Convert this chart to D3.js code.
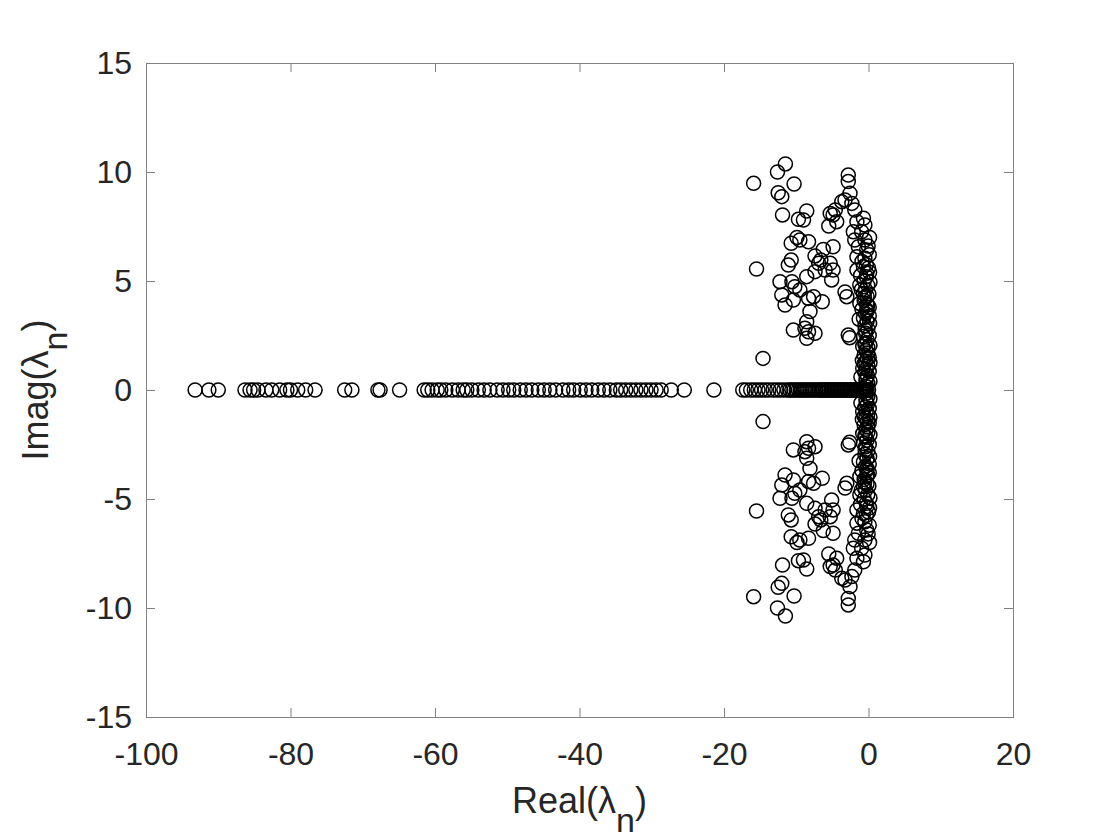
<!DOCTYPE html>
<html>
<head>
<meta charset="utf-8">
<script src="https://cdn.jsdelivr.net/npm/d3@7"></script>
<style>
  body { margin: 0; background: #fff; }
  svg { display: block; font-family: 'Liberation Sans', Arial, sans-serif; }
</style>
</head>
<body>
<script>
// eigenvalues on the real axis (imag = 0)
const realAxisValues = [
  -93.2, -91.3, -90.0,
  -86.3, -85.6, -85.1, -84.5, -83.4, -82.6, -81.5, -80.5, -80.0, -79.0, -77.9, -76.6,
  -72.5, -71.5, -67.9, -67.6, -64.9,
  -61.5, -61.0, -60.4, -59.7, -59.2, -58.5, -57.6, -56.8, -56.1, -55.6, -54.9, -54.0,
  -53.2, -52.4, -51.4, -50.6, -49.8, -49.1, -48.2, -47.4, -46.6, -45.7, -44.9, -44.1,
  -43.3, -42.3, -41.5, -40.8, -39.9, -39.1, -38.3, -37.4, -36.6, -35.8, -34.9, -34.3,
  -33.6, -32.9, -32.2, -31.5, -30.8, -30.1, -29.4, -28.7, -27.3, -25.5,
  -21.4,
  -17.4, -16.9, -16.3, -15.8, -15.3, -14.8, -14.3, -13.8, -13.2, -12.7, -12.2, -11.7,
  -11.2, -10.9, -10.6, -10.3, -10.0, -9.7, -9.45, -9.2, -8.9, -8.65, -8.4, -8.1, -7.85,
  -7.6, -7.3,
  -7.0, -6.8, -6.6, -6.4, -6.2, -6.0, -5.8, -5.6, -5.4, -5.2, -5.0, -4.8, -4.6, -4.4,
  -4.2, -4.0, -3.8, -3.6, -3.4, -3.2, -3.0, -2.8, -2.6, -2.4, -2.2, -2.0, -1.8, -1.6,
  -1.4, -1.2, -1.0, -0.8, -0.6, -0.4, -0.2, 0.0
];

// complex eigenvalues with positive imaginary part; their conjugates are plotted too
const upperRe = [
  -15.9, -12.6, -11.5, -10.3, -12.5, -12.0, -11.9, -9.7, -8.55, -9.0, -5.3, -5.5, -4.6, -3.7,
  -9.9, -9.5, -10.7, -8.3, -10.7, -7.4, -6.26, -6.6, -5.3, -15.5,
  -12.25, -10.6, -10.2, -9.5, -12.0, -11.55, -10.4, -8.55, -7.4, -6.9, -5.1, -6.0, -8.3,
  -7.6, -6.4, -8.1, -8.55, -10.4, -8.8, -8.3, -7.4, -8.55, -14.6, -11.1,
  -2.8, -2.8, -2.56, -3.25, -2.3, -1.9, -4.9, -4.4, -1.6, -0.7, -0.5, -0.95, -2.1, -1.9,
  -0.5, -1.4, -0.25, -1.6, -0.5, -0.7, -1.6, -0.25, -4.9, -4.9, -3.25, -3.0, -1.2, -0.7,
  -1.2, -0.25, -2.8, -2.6,
  -0.3, -0.6, -0.1, -0.4, -0.2, -0.6, -0.1, -0.4, -0.7, -0.2, -0.5, -0.1, -0.4, -0.7,
  -0.2, -0.5, -0.1, -0.35, -0.6, -0.15, -0.4, -0.1, -0.3, -0.5, -0.15, -0.35, -0.1, -0.25,
  0.1, 0.1, 0.1, 0.05, 0.0, -0.9, -1.0, -0.9, -0.8, -0.8,
  0.15, -0.3, 0.2, -0.55, 0.1, -0.2, 0.15, -0.45, 0.2, -0.1, 0.1, -0.6, 0.2, -0.3,
  0.1, -0.05, 0.15, -0.4, 0.2, -0.25, -1.1, -1.3, -0.85, -1.05
];
const upperIm = [
  9.48, 10.0, 10.37, 9.45, 9.05, 8.87, 8.03, 7.83, 8.21, 7.8, 8.1, 7.52, 8.26, 8.64,
  7.0, 6.88, 6.73, 6.8, 5.96, 6.15, 6.45, 5.96, 5.81, 5.55,
  4.97, 4.97, 4.74, 4.59, 4.36, 3.9, 4.13, 5.2, 5.43, 5.81, 5.05, 5.5, 4.2,
  4.28, 4.05, 3.6, 3.13, 2.75, 2.83, 2.67, 2.6, 2.37, 1.45, 5.73,
  9.86, 9.56, 9.02, 8.72, 8.56, 8.26, 8.03, 7.72, 7.72, 7.88, 7.57, 7.26, 7.26, 6.88,
  6.88, 6.57, 6.42, 6.11, 6.04, 5.66, 5.5, 5.35, 6.57, 5.5, 4.5, 4.28, 4.82, 4.43,
  3.97, 3.67, 2.52, 2.4,
  5.2, 5.0, 4.8, 4.6, 4.3, 4.1, 3.9, 3.5, 3.3, 3.15, 2.95, 2.8, 2.6, 2.45,
  2.3, 2.1, 1.95, 1.8, 1.6, 1.45, 1.3, 1.1, 0.95, 0.8, 0.65, 0.45, 0.3, 0.15,
  2.5, 3.4, 1.5, 4.4, 5.6, 5.9, 4.6, 3.7, 2.0, 1.0,
  5.4, 5.75, 4.95, 4.25, 3.8, 3.6, 3.05, 2.75, 2.05, 1.7, 0.85, 1.2, 0.4, 0.55,
  6.2, 6.6, 7.0, 2.15, 1.25, 3.95, 5.25, 3.25, 1.35, 0.6
];

const xTicks = [-100, -80, -60, -40, -20, 0, 20];
const yTicks = [-15, -10, -5, 0, 5, 10, 15];

const points = realAxisValues.map(re => ({ re, im: 0 }));
upperRe.forEach((re, i) => {
  points.push({ re, im: upperIm[i] });
  points.push({ re, im: -upperIm[i] });
});

const width = 1120;
const height = 840;
const box = { left: 146, right: 1013, top: 63, bottom: 717 };
const axisColor = '#808080';
const textColor = '#262626';

const svg = d3.select('body')
  .append('svg')
  .attr('width', width)
  .attr('height', height);

const x = d3.scaleLinear().domain([-100, 20]).range([box.left, box.right]);
const y = d3.scaleLinear().domain([-15, 15]).range([box.bottom, box.top]);

const plainNumber = d => String(d);

// inward ticks on all four sides, like a boxed MATLAB axes
svg.append('g')
  .attr('transform', `translate(0, ${box.bottom})`)
  .call(d3.axisBottom(x).tickValues(xTicks).tickFormat(plainNumber)
    .tickSizeInner(-9).tickSizeOuter(0).tickPadding(25));
svg.append('g')
  .attr('transform', `translate(${box.left}, 0)`)
  .call(d3.axisLeft(y).tickValues(yTicks).tickFormat(plainNumber)
    .tickSizeInner(-9).tickSizeOuter(0).tickPadding(14));
svg.append('g')
  .attr('transform', `translate(0, ${box.top})`)
  .call(d3.axisTop(x).tickValues(xTicks).tickSizeInner(-9).tickSizeOuter(0).tickFormat(''));
svg.append('g')
  .attr('transform', `translate(${box.right}, 0)`)
  .call(d3.axisRight(y).tickValues(yTicks).tickSizeInner(-9).tickSizeOuter(0).tickFormat(''));

svg.selectAll('.domain').remove();
svg.selectAll('.tick line').attr('stroke', axisColor);
svg.selectAll('.tick text')
  .attr('fill', textColor)
  .style('font-size', '32px')
  .style('font-family', "'Liberation Sans', Arial, sans-serif");

svg.append('rect')
  .attr('x', box.left + 0.5)
  .attr('y', box.top + 0.5)
  .attr('width', box.right - box.left)
  .attr('height', box.bottom - box.top)
  .attr('fill', 'none')
  .attr('stroke', axisColor)
  .attr('stroke-width', 1);

svg.append('g')
  .selectAll('circle')
  .data(points)
  .enter()
  .append('circle')
  .attr('cx', d => x(d.re))
  .attr('cy', d => y(d.im))
  .attr('r', 7)
  .attr('fill', 'none')
  .attr('stroke', '#000')
  .attr('stroke-width', 1.5);

function axisLabel(g, name) {
  const t = g.append('text')
    .attr('text-anchor', 'middle')
    .attr('fill', textColor)
    .style('font-size', '36px');
  t.append('tspan').text(name + '(λ');
  t.append('tspan').attr('dy', 19).style('font-size', '34px').text('n');
  t.append('tspan').attr('dy', -19).text(')');
}

axisLabel(svg.append('g').attr('transform', `translate(${(box.left + box.right) / 2}, 813)`), 'Real');
axisLabel(svg.append('g').attr('transform', `translate(48, ${(box.top + box.bottom) / 2}) rotate(-90)`), 'Imag');
</script>
</body>
</html>
